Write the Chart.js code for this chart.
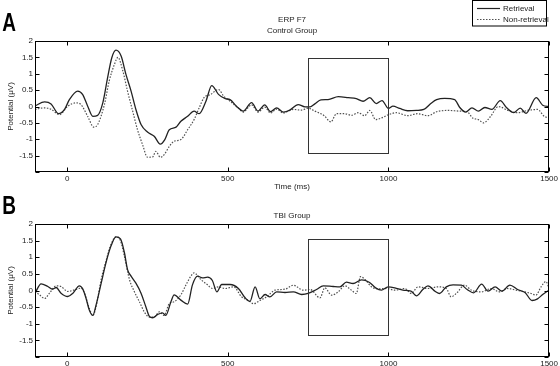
<!DOCTYPE html>
<html>
<head>
<meta charset="utf-8">
<script src="https://cdn.jsdelivr.net/npm/chart.js@4.4.0/dist/chart.umd.min.js"></script>
<style>
body { margin: 0; background: #fff; }
#wrap { position: relative; width: 560px; height: 366px; }
canvas { position: absolute; left: 0; }
#chartA { top: 0; }
#chartB { top: 195px; }
</style>
</head>
<body>
<div id="wrap">
  <canvas id="chartA" width="560" height="195"></canvas>
  <canvas id="chartB" width="560" height="171"></canvas>
</div>
<script>
// tick values / labels
var xTicks = [0, 500, 1000, 1500];
var yTicks = [-2, -1.5, -1, -0.5, 0, 0.5, 1, 1.5, 2];
var yTickLabels = ['', '-1.5', '-1', '-0.5', '0', '0.5', '1', '1.5', '2'];
var seriesNames = ['Retrieval', 'Non-retrieval'];

// analysis window (ms, µV)
var windowA = [750, 1000, -1.43, 1.48];
var windowB = [750, 1000, -1.35, 1.55];

// Control group - retrieval
var tA1 = [-100,-70,-50,-27,-8,7,33,48,64,80,95,111,126,139,152,168,183,199,214,230,250,271,290,304,318,339,354,375,395,411,432,450,471,492,507,527,548,574,594,615,633,652,673,693,719,740,756,771,790,812,844,875,900,921,942,962,980,1000,1014,1035,1060,1087,1110,1134,1150,1175,1206,1222,1240,1260,1280,1300,1322,1348,1368,1390,1410,1428,1460,1480,1500];
var vA1 = [0.02,0.14,0.08,-0.22,-0.09,0.21,0.47,0.37,0.01,-0.30,-0.27,0.11,0.88,1.49,1.72,1.54,0.98,0.47,-0.09,-0.55,-0.78,-0.91,-1.15,-1.01,-0.71,-0.63,-0.45,-0.30,-0.14,-0.22,0.16,0.64,0.37,0.24,0.21,0.01,-0.14,0.12,-0.14,0.05,-0.16,-0.04,-0.17,-0.11,0.06,-0.01,-0.01,0.08,0.20,0.21,0.30,0.27,0.24,0.16,0.27,0.09,0.18,-0.06,0.01,-0.06,-0.13,-0.12,-0.09,0.11,0.21,0.25,0.21,-0.03,-0.17,-0.04,-0.14,-0.03,-0.09,0.18,-0.04,-0.19,-0.05,-0.21,0.27,0.04,0.0];

// Control group - non-retrieval
var tA2 = [-100,-70,-49,-24,2,28,43,64,83,95,116,131,147,158,173,188,204,219,235,250,266,276,290,302,318,333,354,375,395,411,426,447,471,487,507,533,548,574,594,615,633,652,673,693,704,729,750,771,800,821,838,864,885,906,926,942,960,983,1000,1025,1060,1090,1123,1150,1185,1221,1245,1262,1280,1296,1318,1342,1372,1402,1433,1464,1485,1500];
var vA2 = [-0.09,-0.04,-0.09,-0.25,0.01,0.11,0.06,-0.30,-0.63,-0.55,0.06,0.78,1.28,1.50,1.10,0.47,-0.14,-0.71,-1.17,-1.55,-1.54,-1.37,-1.55,-1.47,-1.22,-1.06,-1.01,-0.71,-0.40,-0.04,0.27,0.37,0.52,0.32,0.16,-0.05,-0.17,0.05,-0.17,-0.02,-0.20,-0.08,-0.20,-0.12,-0.09,-0.11,-0.05,-0.14,-0.28,-0.47,-0.22,-0.22,-0.27,-0.19,-0.28,-0.12,-0.40,-0.33,-0.25,-0.19,-0.28,-0.22,-0.28,-0.16,-0.12,-0.14,-0.16,-0.35,-0.40,-0.50,-0.30,0.0,-0.12,-0.19,-0.12,-0.09,-0.30,-0.35];

// TBI group - retrieval
var tB1 = [-100,-81,-60,-45,-34,-19,2,18,38,49,59,69,80,90,106,121,137,152,166,178,188,199,214,230,245,256,266,282,297,307,323,333,354,375,390,406,421,437,452,466,481,507,533,554,569,585,600,616,631,652,678,704,730,750,776,797,828,849,869,890,916,940,960,978,999,1020,1045,1070,1087,1107,1123,1146,1159,1180,1201,1227,1245,1265,1290,1310,1332,1353,1378,1402,1425,1447,1464,1480,1500];
var vB1 = [-0.08,0.20,0.12,0.04,0.09,-0.08,-0.18,-0.08,0.14,0.04,-0.24,-0.59,-0.75,-0.44,0.22,0.84,1.35,1.61,1.55,1.15,0.63,0.43,0.22,-0.08,-0.49,-0.78,-0.82,-0.72,-0.67,-0.75,-0.34,-0.13,-0.29,-0.41,0.17,0.43,0.38,0.40,0.30,-0.04,0.18,0.18,0.06,-0.22,-0.33,0.11,-0.25,-0.12,-0.19,-0.04,-0.06,-0.04,-0.12,-0.09,0.03,0.14,0.12,0.11,0.25,0.21,0.32,0.25,0.08,0.01,0.11,0.08,0.01,-0.02,-0.16,0.03,0.14,-0.03,-0.09,0.11,0.17,0.16,0.03,-0.07,0.19,-0.02,0.11,-0.02,0.16,0.03,-0.06,-0.30,-0.25,-0.12,0.01];

// TBI group - non-retrieval
var tB2 = [-100,-86,-70,-55,-34,-19,2,23,43,54,69,80,90,106,121,137,152,166,178,194,209,225,240,256,271,287,302,318,333,354,370,385,395,416,437,452,471,492,518,543,564,580,600,621,647,678,704,735,756,787,802,823,844,864,885,900,913,930,947,970,994,1020,1051,1071,1092,1123,1154,1180,1195,1211,1237,1258,1289,1320,1346,1371,1397,1423,1444,1459,1475,1490,1500];
var vB2 = [-0.03,-0.13,-0.24,-0.08,0.14,0.12,-0.03,0.02,0.07,-0.08,-0.54,-0.75,-0.49,0.33,0.89,1.40,1.61,1.50,1.04,0.33,-0.03,-0.34,-0.64,-0.80,-0.80,-0.64,-0.75,-0.39,-0.34,-0.13,0.17,0.43,0.53,0.33,0.17,0.06,0.11,0.06,0.11,-0.19,-0.30,-0.40,-0.30,-0.19,0.01,0.04,0.16,0.01,0.03,-0.22,0.08,-0.14,-0.04,0.14,0.01,-0.09,0.42,0.30,0.11,0.05,0.06,0.01,0.06,-0.09,0.11,0.06,0.11,0.06,-0.19,-0.09,0.16,0.01,-0.04,0.06,-0.04,0.06,0.01,-0.04,-0.09,-0.14,0.11,0.27,0.06];

var FONT = "'Liberation Sans', Arial, sans-serif";
var solidColor = '#222';
var dotColor = '#505050';

function pts(t, v) {
  return t.map(function (x, i) { return { x: x, y: v[i] }; });
}

// frame, inward ticks, analysis box, titles, legend
var decor = {
  id: 'decor',
  afterDraw: function (chart, args, o) {
    var c = chart.ctx, a = chart.chartArea;
    var xs = chart.scales.x, ys = chart.scales.y;
    c.save();
    c.strokeStyle = '#000';
    c.lineWidth = 1;
    var L = Math.round(a.left) + 0.5, R = Math.round(a.right) - 0.5;
    var T = Math.round(a.top) + 0.5, B = Math.round(a.bottom) - 0.5;
    c.strokeRect(L, T, R - L, B - T);
    c.beginPath();
    xTicks.forEach(function (v) {
      var px = Math.round(xs.getPixelForValue(v)) + 0.5;
      c.moveTo(px, B); c.lineTo(px, B - 4);
      c.moveTo(px, T); c.lineTo(px, T + 4);
    });
    yTicks.forEach(function (v) {
      var py = Math.round(ys.getPixelForValue(v)) + 0.5;
      c.moveTo(L, py); c.lineTo(L + 4, py);
      c.moveTo(R, py); c.lineTo(R - 4, py);
    });
    c.stroke();

    // analysis window
    var w = o.win;
    var x1 = Math.round(xs.getPixelForValue(w[0])) + 0.5, x2 = Math.round(xs.getPixelForValue(w[1])) + 0.5;
    var y1 = Math.round(ys.getPixelForValue(w[3])) + 0.5, y2 = Math.round(ys.getPixelForValue(w[2])) + 0.5;
    c.strokeStyle = '#333';
    c.strokeRect(x1, y1, x2 - x1, y2 - y1);

    // titles
    c.fillStyle = '#222';
    c.font = '8px ' + FONT;
    c.textAlign = 'center';
    c.textBaseline = 'middle';
    var cx = (a.left + a.right) / 2;
    o.titles.forEach(function (t) { c.fillText(t[0], cx, t[1]); });

    // panel letter
    c.save();
    c.fillStyle = '#000';
    c.font = 'bold 20px ' + FONT;
    c.translate(9, o.letterY);
    c.scale(0.95, 1.25);
    c.fillText(o.letter, 0, 0);
    c.restore();

    if (o.legend) {
      c.fillStyle = '#fff';
      c.fillRect(472.5, 0.5, 74, 25.5);
      c.strokeStyle = '#000';
      c.strokeRect(472.5, 0.5, 74, 25.5);
      c.textAlign = 'left';
      c.fillStyle = '#222';
      c.lineWidth = 1.2;
      c.strokeStyle = solidColor;
      c.beginPath(); c.moveTo(477, 8.5); c.lineTo(500, 8.5); c.stroke();
      c.fillText(seriesNames[0], 503, 8.5);
      c.strokeStyle = dotColor;
      c.setLineDash([1.5, 1.5]);
      c.beginPath(); c.moveTo(477, 19.5); c.lineTo(500, 19.5); c.stroke();
      c.setLineDash([]);
      c.fillText(seriesNames[1], 503, 19.5);
    }
    c.restore();
  }
};

function makeChart(id, d1, d2, cfg) {
  return new Chart(document.getElementById(id).getContext('2d'), {
    type: 'line',
    data: {
      datasets: [{
        label: seriesNames[0],
        data: d1,
        borderColor: solidColor,
        borderWidth: 1.3,
        pointRadius: 0,
        cubicInterpolationMode: 'monotone',
        fill: false
      }, {
        label: seriesNames[1],
        data: d2,
        borderColor: dotColor,
        borderWidth: 1.2,
        borderDash: [1.5, 1.5],
        pointRadius: 0,
        cubicInterpolationMode: 'monotone',
        fill: false
      }]
    },
    options: {
      responsive: false,
      animation: false,
      events: [],
      layout: { padding: { top: cfg.top, right: 10, left: 0, bottom: 0 } },
      plugins: {
        legend: { display: false },
        tooltip: { enabled: false },
        decor: cfg.decor
      },
      scales: {
        x: {
          type: 'linear',
          min: -100,
          max: 1500,
          afterBuildTicks: function (s) { s.ticks = xTicks.map(function (v) { return { value: v }; }); },
          afterFit: function (s) { s.height = cfg.xh; },
          grid: { display: false, drawTicks: false },
          border: { display: false },
          ticks: {
            font: { size: 8, family: FONT }, color: '#222', padding: 2, maxRotation: 0, autoSkip: false,
            callback: function (v) { return String(v); }
          },
          title: cfg.xTitle ? { display: true, text: cfg.xTitle, font: { size: 8, family: FONT }, color: '#222', padding: { top: 0, bottom: 3 } } : { display: false }
        },
        y: {
          min: -2,
          max: 2,
          afterBuildTicks: function (s) { s.ticks = yTicks.map(function (v) { return { value: v }; }); },
          afterFit: function (s) { s.width = 35; },
          grid: { display: false, drawTicks: false },
          border: { display: false },
          ticks: {
            font: { size: 8, family: FONT }, color: '#222', padding: 2, autoSkip: false,
            callback: function (v, i) { return yTickLabels[i]; }
          },
          title: { display: true, text: 'Potential (μV)', font: { size: 8, family: FONT }, color: '#222', padding: { top: 6, bottom: 0 } }
        }
      }
    },
    plugins: [decor]
  });
}

var chartA = makeChart('chartA', pts(tA1, vA1), pts(tA2, vA2), {
  top: 41, xh: 23, xTitle: 'Time (ms)',
  decor: { win: windowA, titles: [['ERP F7', 20], ['Control Group', 30.5]], letter: 'A', letterY: 24, legend: true }
});

var chartB = makeChart('chartB', pts(tB1, vB1), pts(tB2, vB2), {
  top: 29, xh: 9, xTitle: null,
  decor: { win: windowB, titles: [['TBI Group', 20.5]], letter: 'B', letterY: 12.5, legend: false }
});
</script>
</body>
</html>
